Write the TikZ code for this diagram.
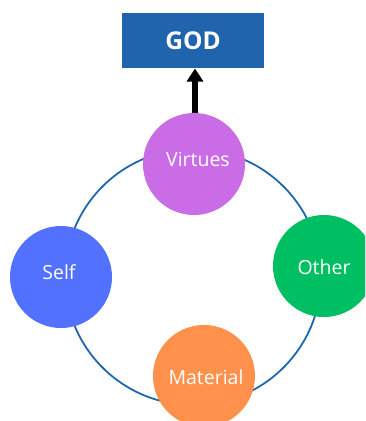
\documentclass[tikz,border=0pt]{standalone}
\usepackage{fontspec}
\setmainfont{Open Sans}
\usetikzlibrary{arrows.meta}
\definecolor{godblue}{HTML}{1F64AD}
\definecolor{ringblue}{HTML}{1E67AE}
\definecolor{cvirt}{HTML}{C96CE6}
\definecolor{cself}{HTML}{5271FF}
\definecolor{cother}{HTML}{00BF63}
\definecolor{cmat}{HTML}{FF914D}
\tikzset{
  bubble/.style={circle, minimum size=102pt, inner sep=0pt, draw=none},
  lbl/.style={text=white, font=\fontsize{19.5}{22}\selectfont, inner sep=0pt, anchor=center},
}
\begin{document}
\begin{tikzpicture}[x=1pt,y=-1pt]
\useasboundingbox (0,0) rectangle (365,421);
\begin{scope}
\clip (0,0) rectangle (365,421);
\node[circle, draw=ringblue, line width=1.8pt, minimum size=256pt, inner sep=0pt] (ring) at (193,277) {};
\node[bubble, fill=cvirt] (virt) at (194,164) {};
\node[bubble, fill=cself] (self) at (61,277) {};
\node[bubble, fill=cother] (other) at (324,266) {};
\node[bubble, fill=cmat] (mat) at (204,376) {};
\end{scope}
\node[fill=godblue, minimum width=142.5pt, minimum height=55pt, inner sep=0pt,
      text=white, font=\bfseries\fontsize{24.5}{27}\selectfont] (god) at (193,40.8) {GOD};
\node[lbl] (tv) at (198,159) {Virtues};
\node[lbl] (ts) at (59,272) {Self};
\node[lbl] (to) at (324,267) {Other};
\node[lbl] (tm) at (206,377) {Material};
\draw[line width=6.5pt, -{Triangle[width=16pt,length=13pt]}] (virt.north -| 195,0) -- (god.south -| 195,0);
\end{tikzpicture}
\end{document}
